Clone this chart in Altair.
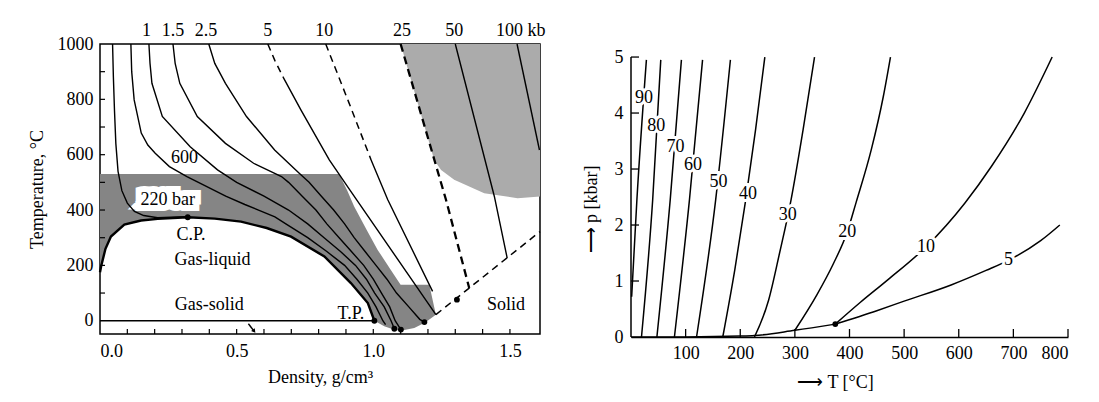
import altair as alt
import pandas as pd

FONT = "Liberation Serif"
FS = 18

# ================= LEFT PANEL (density g/cm3 vs temperature °C) =================
dome_d = [0.0, 0.004, 0.02, 0.04, 0.089, 0.15, 0.211, 0.321, 0.42, 0.516, 0.61, 0.699, 0.821, 0.918, 0.98, 1.004]
dome_T = [175, 196, 260, 304, 347, 362, 368, 374, 369, 358, 335, 304, 232, 136, 64, 0]

gas_solid_d = [0.0, 1.004]
gas_solid_T = [0, 0]

bar220_d = [0.046, 0.049, 0.053, 0.058, 0.066, 0.08, 0.10, 0.126, 0.16, 0.211, 0.26, 0.321]
bar220_T = [1000, 880, 760, 640, 540, 470, 425, 395, 380, 372, 374, 376]

bar600_d = [0.113, 0.116, 0.125, 0.151, 0.175, 0.202, 0.254, 0.318, 0.36, 0.46, 0.53, 0.58, 0.64, 0.68, 0.76, 0.83, 0.895, 0.94, 0.98, 1.01, 1.035, 1.045]
bar600_T = [1000, 900, 798, 678, 635, 605, 557, 521, 500, 450, 420, 400, 375, 350, 300, 250, 200, 150, 100, 50, 0, -14]

kb1_d = [0.179, 0.183, 0.19, 0.228, 0.33, 0.43, 0.50, 0.60, 0.69, 0.76, 0.82, 0.88, 0.935, 0.975, 1.005, 1.04, 1.065, 1.077]
kb1_T = [1000, 930, 858, 738, 629, 545, 500, 450, 400, 350, 300, 250, 200, 150, 100, 50, 0, -29]

kb15_d = [0.267, 0.275, 0.292, 0.356, 0.459, 0.562, 0.664, 0.69, 0.74, 0.79, 0.83, 0.875, 0.92, 0.965, 1.0, 1.03, 1.06, 1.08, 1.101]
kb15_T = [1000, 930, 858, 738, 641, 569, 521, 500, 450, 400, 350, 300, 250, 200, 150, 100, 50, 0, -32]

kb25_d = [0.398, 0.42, 0.459, 0.536, 0.639, 0.729, 0.765, 0.81, 0.855, 0.895, 0.93, 0.97, 1.01, 1.05, 1.085, 1.13, 1.17, 1.187]
kb25_T = [1000, 930, 858, 738, 617, 533, 500, 450, 400, 350, 300, 250, 200, 150, 100, 50, 5, -5]

kb5_dash_d = [0.614, 0.64, 0.67]
kb5_dash_T = [1000, 940, 880]
kb5_d = [0.67, 0.735, 0.839, 0.914, 1.229]
kb5_T = [880, 762, 581, 473, 22]

kb10_dash_d = [0.826, 0.91, 0.992]
kb10_dash_T = [1000, 790, 581]
kb10_d = [0.992, 1.053, 1.217]
kb10_T = [581, 437, 106]

kb25k_d = [1.10, 1.266, 1.351]
kb25k_T = [1000, 437, 118]

kb50_d = [1.30, 1.443, 1.49]
kb50_T = [1000, 449, 226]

kb100_d = [1.526, 1.608]
kb100_T = [1000, 617]

melt_d = [1.229, 1.61]
melt_T = [22, 322]

arrow_d = [0.543, 0.564]
arrow_T = [-11, -38]

# shaded regions (polygon vertices)
cross_d = [0.0, 0.875, 0.905, 0.93, 0.975, 1.016, 1.06, 1.10, 1.205, 1.229, 1.19, 1.15, 1.10, 1.077, 1.04, 1.004,
           0.98, 0.918, 0.821, 0.699, 0.61, 0.516, 0.42, 0.321, 0.211, 0.15, 0.089, 0.04, 0.02, 0.004, 0.0]
cross_T = [530, 530, 470, 413, 330, 256, 190, 130, 130, 22, -6, -26, -36, -33, -20, 0,
           64, 136, 232, 304, 335, 358, 369, 374, 368, 362, 347, 304, 260, 196, 180]

diag_d = [1.10, 1.61, 1.61, 1.528, 1.406, 1.296, 1.248, 1.223]
diag_T = [1000, 1000, 449, 443, 461, 509, 545, 581]

dots_d = [0.321, 1.004, 1.077, 1.101, 1.187, 1.306]
dots_T = [374, 0, -29, -32, -5, 76]

lab_text = ["600", "C.P.", "Gas-liquid", "Gas-solid", "T.P.", "Solid"]
lab_d = [0.309, 0.333, 0.412, 0.40, 0.918, 1.486]
lab_T = [587, 310, 220, 58, 25, 58]

box_text = ["220 bar"]
box_d = [0.248]
box_T = [437]

top_text = ["1", "1.5", "2.5", "5", "10", "25", "50"]
top_d = [0.17, 0.267, 0.388, 0.614, 0.821, 1.105, 1.296]
top_last_text = ["100 kb"]
top_last_d = [1.449]

left_xticks = [0.1 * i for i in range(1, 16)]
left_yticks = [100, 200, 300, 400, 500, 600, 700, 800, 900]

# ================= RIGHT PANEL (T °C vs p kbar) =================
vap_T = [0, 100, 200, 226, 300, 374]
vap_p = [0, 0.001, 0.016, 0.026, 0.12, 0.23]

c5_T = [374, 450, 500, 586, 650, 691, 750, 785]
c5_p = [0.23, 0.47, 0.64, 0.93, 1.19, 1.37, 1.72, 2.0]
c10_T = [374, 420, 470, 540, 611, 660, 720, 771]
c10_p = [0.23, 0.62, 1.02, 1.61, 2.39, 3.05, 4.0, 5.0]
c20_T = [300, 340, 370, 396, 412, 440, 462, 475]
c20_p = [0.12, 0.75, 1.3, 1.88, 2.4, 3.35, 4.3, 5.0]
c30_T = [226, 252, 272, 293, 315, 336]
c30_p = [0.0, 0.66, 1.5, 2.45, 3.7, 5.0]
c40_T = [168, 190, 210, 228, 245]
c40_p = [0.0, 1.2, 2.45, 3.7, 5.0]
c50_T = [120, 155, 182]
c50_p = [0.0, 2.45, 4.95]
c60_T = [79.5, 107, 131]
c60_p = [0.0, 2.45, 4.95]
c70_T = [47.4, 71.8, 92.3]
c70_p = [0.0, 2.45, 4.95]
c80_T = [19.2, 39.7, 54.5]
c80_p = [0.0, 2.45, 4.95]
c90_T = [1.2, 10.8, 28.2]
c90_p = [0.72, 2.45, 4.95]

rlab_text = ["90", "80", "70", "60", "50", "40", "30", "20", "10", "5"]
rlab_T = [23.7, 46, 81.4, 113.5, 160, 214, 286.8, 396, 540, 691]
rlab_p = [4.26, 3.77, 3.40, 3.07, 2.77, 2.55, 2.18, 1.88, 1.61, 1.37]

cp_T = [374]
cp_p = [0.23]

right_xticks = [100, 200, 300, 400, 500, 600, 700, 800]
right_yticks = [0, 1, 2, 3, 4, 5]

# ---------------- helpers ----------------
def seg_df(items, xname, yname):
    rows = []
    for name, xs, ys in items:
        for i, (a, b) in enumerate(zip(xs, ys)):
            rows.append({"name": name, "i": i, xname: a, yname: b})
    return pd.DataFrame(rows)

LW, LH = 440, 290
RW, RH = 437, 293

xL = alt.X("d:Q", scale=alt.Scale(domain=[0, 1.61], nice=False, zero=False),
           axis=alt.Axis(values=[0, 0.5, 1.0, 1.5], format=".1f", ticks=False, domain=False,
                         labelPadding=8, titlePadding=8),
           title="Density, g/cm³")
yL = alt.Y("T:Q", scale=alt.Scale(domain=[-48, 1000], nice=False, zero=False),
           axis=alt.Axis(values=[0, 200, 400, 600, 800, 1000], format="d", ticks=False, domain=False,
                         labelPadding=7, titlePadding=11),
           title="Temperature, °C")

order = alt.Order("i:Q")
det = alt.Detail("name:N")

cross = alt.Chart(seg_df([("c", cross_d, cross_T)], "d", "T")).mark_line(
    fill="#858585", strokeWidth=0).encode(x=xL, y=yL, order=order)
diag = alt.Chart(seg_df([("g", diag_d, diag_T)], "d", "T")).mark_line(
    fill="#ababab", strokeWidth=0).encode(x=xL, y=yL, order=order)

box_df = pd.DataFrame({"t": box_text, "d": box_d, "T": box_T})
box_halo = alt.Chart(box_df).mark_text(font=FONT, fontSize=FS, color="white", stroke="white",
                                       strokeWidth=12).encode(x=xL, y=yL, text="t:N")
box_lab = alt.Chart(box_df).mark_text(font=FONT, fontSize=FS, color="black").encode(x=xL, y=yL, text="t:N")

solid_df = seg_df([
    ("220", bar220_d, bar220_T), ("600", bar600_d, bar600_T), ("1k", kb1_d, kb1_T),
    ("1.5k", kb15_d, kb15_T), ("2.5k", kb25_d, kb25_T), ("5k", kb5_d, kb5_T),
    ("10k", kb10_d, kb10_T), ("50k", kb50_d, kb50_T), ("100k", kb100_d, kb100_T),
    ("gs", gas_solid_d, gas_solid_T), ("arrow", arrow_d, arrow_T)], "d", "T")
solid = alt.Chart(solid_df).mark_line(color="black", strokeWidth=1.4).encode(
    x=xL, y=yL, order=order, detail=det)
thick = alt.Chart(seg_df([("dome", dome_d, dome_T)], "d", "T")).mark_line(
    color="black", strokeWidth=2.4).encode(x=xL, y=yL, order=order)
dash_df = seg_df([("5d", kb5_dash_d, kb5_dash_T), ("10d", kb10_dash_d, kb10_dash_T),
                  ("melt", melt_d, melt_T)], "d", "T")
dashed = alt.Chart(dash_df).mark_line(color="black", strokeWidth=1.5, strokeDash=[7, 5]).encode(
    x=xL, y=yL, order=order, detail=det)
dashed_thick = alt.Chart(seg_df([("25k", kb25k_d, kb25k_T)], "d", "T")).mark_line(
    color="black", strokeWidth=2.3, strokeDash=[8, 5]).encode(x=xL, y=yL, order=order)

arrow_head = alt.Chart(pd.DataFrame({"d": arrow_d[1:], "T": arrow_T[1:]})).mark_point(
    shape="triangle-down", filled=True, color="black", size=22, angle=323, opacity=1).encode(x=xL, y=yL)

dots = alt.Chart(pd.DataFrame({"d": dots_d, "T": dots_T})).mark_circle(
    color="black", size=34, opacity=1).encode(x=xL, y=yL)

labels = alt.Chart(pd.DataFrame({"t": lab_text, "d": lab_d, "T": lab_T})).mark_text(
    font=FONT, fontSize=FS, color="black").encode(x=xL, y=yL, text="t:N")

top_lab = alt.Chart(pd.DataFrame({"t": top_text, "d": top_d, "T": [1000] * len(top_d)})).mark_text(
    font=FONT, fontSize=FS, color="black", dy=-13, baseline="middle").encode(x=xL, y=yL, text="t:N")
top_last = alt.Chart(pd.DataFrame({"t": top_last_text, "d": top_last_d, "T": [1000]})).mark_text(
    font=FONT, fontSize=FS, color="black", dy=-13, baseline="middle", align="left").encode(x=xL, y=yL, text="t:N")

lxt = alt.Chart(pd.DataFrame({"d": left_xticks})).mark_rule(color="black", strokeWidth=1.2).encode(
    x=xL, y=alt.value(LH), y2=alt.value(LH - 5))
lyt = alt.Chart(pd.DataFrame({"T": left_yticks})).mark_rule(color="black", strokeWidth=1.2).encode(
    y=yL, x=alt.value(0), x2=alt.value(5))

left = alt.layer(diag, cross, box_halo, solid, thick, dashed, dashed_thick, arrow_head, dots,
                 labels, box_lab, top_lab, top_last, lxt, lyt).properties(
    width=LW, height=LH, view=alt.ViewBackground(stroke="black", strokeWidth=1.5))

# ---------------- right ----------------
xR = alt.X("T:Q", scale=alt.Scale(domain=[0, 800], nice=False, zero=False),
           axis=alt.Axis(values=right_xticks, ticks=False, labelPadding=7, domainColor="black",
                         domainWidth=1.5, titleX=204, titleY=45, titleBaseline="middle",
                         titleAlign="center"),
           title="⟶ T [°C]")
yR = alt.Y("p:Q", scale=alt.Scale(domain=[0, 5.233], nice=False, zero=False),
           axis=alt.Axis(values=right_yticks, ticks=False, domain=False, labelPadding=8,
                         titleX=-40, titleY=165, titleBaseline="middle", titleAlign="center",
                         titleAngle=270),
           title="⟶ p [kbar]")

rcurves = seg_df([("v", vap_T, vap_p), ("5", c5_T, c5_p), ("10", c10_T, c10_p), ("20", c20_T, c20_p),
                  ("30", c30_T, c30_p), ("40", c40_T, c40_p), ("50", c50_T, c50_p), ("60", c60_T, c60_p),
                  ("70", c70_T, c70_p), ("80", c80_T, c80_p), ("90", c90_T, c90_p)], "T", "p")
rlines = alt.Chart(rcurves).mark_line(color="black", strokeWidth=1.5, interpolate="monotone").encode(
    x=xR, y=yR, order=order, detail=det)

raxis = alt.Chart(pd.DataFrame({"T": [0], "p": [0], "p2": [5]})).mark_rule(
    color="black", strokeWidth=1.5).encode(x=xR, y=yR, y2="p2:Q")

rlab_df = pd.DataFrame({"t": rlab_text, "T": rlab_T, "p": rlab_p})
rhalo = alt.Chart(rlab_df).mark_text(font=FONT, fontSize=FS, color="white", stroke="white",
                                     strokeWidth=6).encode(x=xR, y=yR, text="t:N")
rlab = alt.Chart(rlab_df).mark_text(font=FONT, fontSize=FS, color="black").encode(x=xR, y=yR, text="t:N")

rcp = alt.Chart(pd.DataFrame({"T": cp_T, "p": cp_p})).mark_circle(color="black", size=34, opacity=1).encode(
    x=xR, y=yR)

rxt = alt.Chart(pd.DataFrame({"T": right_xticks})).mark_rule(color="black", strokeWidth=1.3).encode(
    x=xR, y=alt.value(RH), y2=alt.value(RH - 8))
ryt = alt.Chart(pd.DataFrame({"p": right_yticks[1:]})).mark_rule(color="black", strokeWidth=1.3).encode(
    y=yR, x=alt.value(0), x2=alt.value(8))

right = alt.layer(rlines, raxis, rhalo, rlab, rcp, rxt, ryt).properties(width=RW, height=RH)

chart = alt.hconcat(left, right, spacing=91, bounds="flush").properties(
    padding={"left": 19, "top": 13, "right": 5, "bottom": 5}, background="white"
).configure_view(stroke="transparent").configure_axis(
    labelFont=FONT, titleFont=FONT, labelFontSize=FS, titleFontSize=FS,
    labelColor="black", titleColor="black", titleFontWeight="normal", grid=False
)

chart.save("out.html", embed_options={"renderer": "svg", "actions": False})
